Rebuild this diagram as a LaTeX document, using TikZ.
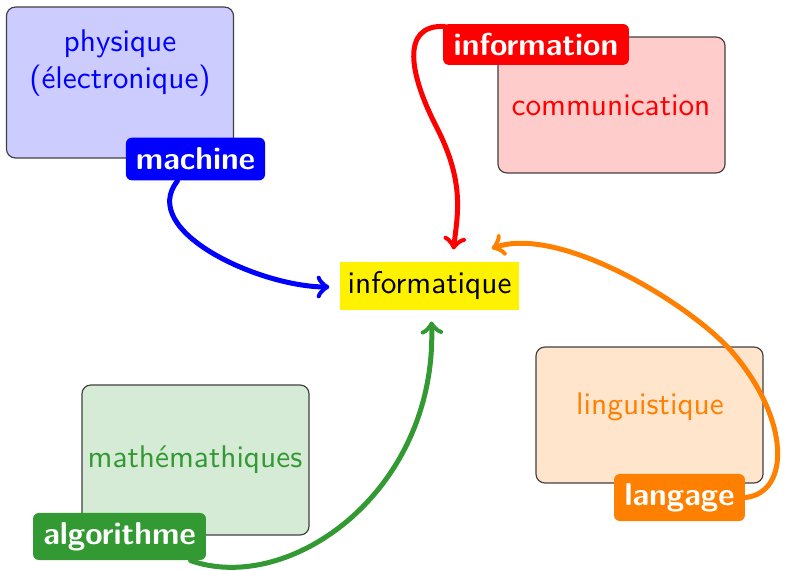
\documentclass[tikz,border=0pt]{standalone}
\usetikzlibrary{calc}
\definecolor{mygreen}{RGB}{51,153,51}
\begin{document}
\begin{tikzpicture}[x=0.34pt,y=-0.34pt,font=\sffamily\fontsize{10.65pt}{12.6pt}\selectfont,
  domainbox/.style={draw=black!75,thin,rounded corners=3pt,inner sep=0pt,minimum width=77.2pt},
  tag/.style={rounded corners=2pt,text=white,font=\sffamily\bfseries\fontsize{10.75pt}{12.6pt}\selectfont,inner sep=0pt,minimum height=14.5pt},
  arr/.style={->,line width=1.7pt,line cap=round}]
\useasboundingbox (0,0) rectangle (785,571);
% domain boxes
\node[domainbox,fill=blue!20,minimum height=51.3pt] (physbox) at (120,82.5) {};
\node[domainbox,fill=red!20,minimum height=46.2pt] (commbox) at (611.5,105) {};
\node[domainbox,fill=orange!20,minimum height=46.2pt] (lingbox) at (649.5,415) {};
\node[domainbox,fill=mygreen!20,minimum height=51pt] (mathbox) at (195.5,460) {};
\node[text=blue,align=center] (phystext) at (120,63) {physique\\(électronique)};
\node[text=red] (commtext) at (611,105) {communication};
\node[text=orange] (lingtext) at (650,407) {linguistique};
\node[text=mygreen] (mathtext) at (195,460) {mathémathiques};
% center
\node[fill=yellow,minimum width=60.9pt,minimum height=16.3pt,inner sep=0pt] (info) at (429.5,286) {informatique};
% tags
\node[tag,fill=blue,minimum width=47.3pt] (machine) at (195.5,159) {machine};
\node[tag,fill=red,minimum width=63.2pt,minimum height=13.9pt] (information) at (536,44.5) {information};
\node[tag,fill=orange,minimum width=44.5pt,minimum height=16pt] (langage) at (679.5,497.5) {langage};
\node[tag,fill=mygreen,minimum width=58.8pt,minimum height=16pt] (algo) at (119.5,536.5) {algorithme};
% arrows
\coordinate (rmid) at (437,128);
\coordinate (omid) at (733,353);
\draw[arr,blue] ($(machine.south)+(-18,0)$) .. controls +(-40,50) and +(-70,0) .. ($(info.west)+(-10,1)$);
\draw[arr,red] ($(information.north west)+(2,3)$) .. controls +(-45,-2) and +(-27,-52) .. (rmid)
  .. controls +(28,55) and +(4,-35) .. ($(info.north)+(24,-12)$);
\draw[arr,orange] (langage.east) .. controls +(45,-5) and +(57,67) .. (omid)
  .. controls +(-40,-47) and +(69,-24) .. ($(info.north east)+(-28,-13)$);
\draw[arr,mygreen] ($(algo.south east)+(-16,0)$) .. controls +(100,35) and +(6,169) .. ($(info.south)+(2,11)$);
\end{tikzpicture}
\end{document}
